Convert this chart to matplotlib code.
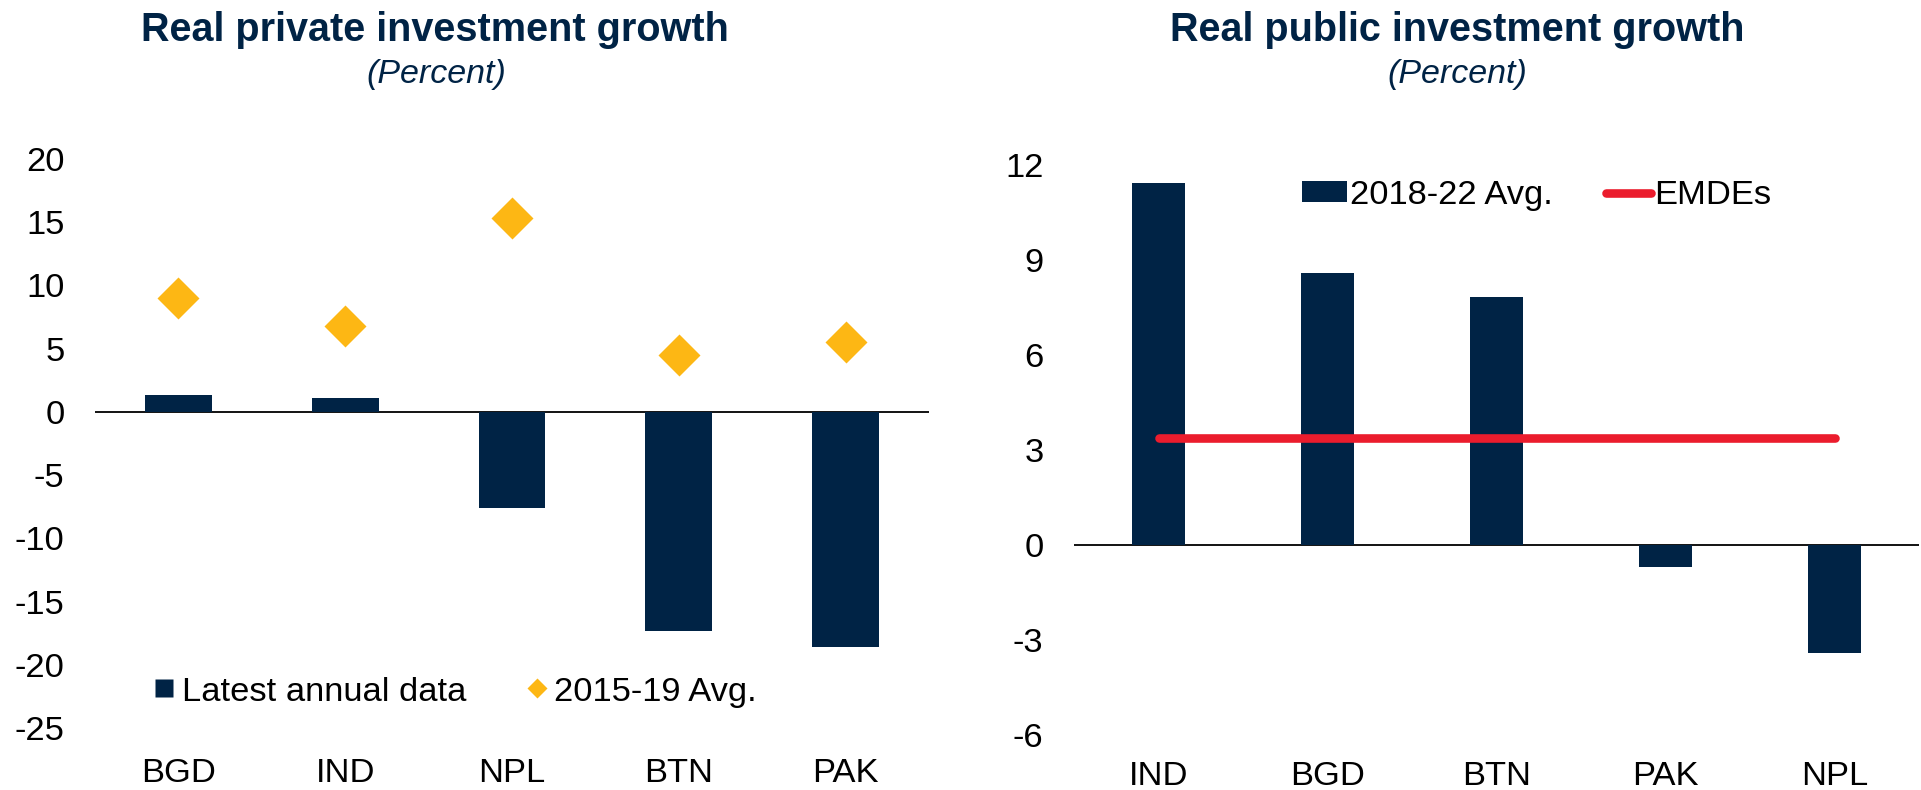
import matplotlib
matplotlib.use("Agg")
import matplotlib.pyplot as plt
from matplotlib.lines import Line2D

plt.rcParams['font.family'] = ['Liberation Sans', 'DejaVu Sans']
plt.rcParams['axes.unicode_minus'] = False

# Data
left_categories = ["BGD", "IND", "NPL", "BTN", "PAK"]
latest_annual = [1.35, 1.1, -7.6, -17.3, -18.6]
avg_2015_19 = [9.0, 6.8, 15.3, 4.5, 5.5]

right_categories = ["IND", "BGD", "BTN", "PAK", "NPL"]
avg_2018_22 = [11.42, 8.58, 7.82, -0.68, -3.42]
emdes = [3.39, 3.39, 3.39, 3.39, 3.39]

left_yticks = [20, 15, 10, 5, 0, -5, -10, -15, -20, -25]
right_yticks = [12, 9, 6, 3, 0, -3, -6]

NAVY = "#002345"
GOLD = "#FDB714"
RED = "#EB1C2D"
FS = 24.8

W, H = 1921, 790
fig = plt.figure(figsize=(W / 100, H / 100), dpi=100)

def px_axes(x0, y0, x1, y1):
    return fig.add_axes([x0 / W, 1 - y1 / H, (x1 - x0) / W, (y1 - y0) / H])

# Left chart
ax1 = px_axes(95, 159, 929, 728)
x = range(len(left_categories))
ax1.bar(x, latest_annual, width=0.4, color=NAVY, zorder=2)
ax1.plot(x, avg_2015_19, ls='', marker='D', ms=21, color=GOLD, mec='none', zorder=3)
ax1.axhline(0, color='black', lw=1.3, zorder=1)
ax1.set_xlim(-0.5, len(left_categories) - 0.5)
ax1.set_ylim(-25, 20)
ax1.set_yticks(left_yticks)
ax1.set_xticks(list(x))
ax1.set_xticklabels(left_categories)
ax1.tick_params(axis='y', length=0, pad=22, labelsize=FS)
ax1.tick_params(axis='x', length=0, pad=21.5, labelsize=FS)
for s in ax1.spines.values():
    s.set_visible(False)
h1 = [Line2D([], [], ls='', marker='s', ms=12.5, color=NAVY, mec='none'),
      Line2D([], [], ls='', marker='D', ms=10, color=GOLD, mec='none')]
ax1.legend(h1, ["Latest annual data", "2015-19 Avg."], loc='center left',
           bbox_to_anchor=(0.0707, 0.0633), frameon=False, fontsize=FS,
           ncol=2, handlelength=0.6, handletextpad=0.2, columnspacing=1.75,
           borderpad=0, borderaxespad=0)

# Right chart
ax2 = px_axes(1074, 165, 1919, 735)
x2 = range(len(right_categories))
bars = ax2.bar(x2, avg_2018_22, width=0.31, color=NAVY, zorder=2)
line, = ax2.plot(x2, emdes, color=RED, lw=6.2, solid_capstyle='round', zorder=3)
ax2.axhline(0, color='black', lw=1.3, zorder=1)
ax2.set_xlim(-0.5, len(right_categories) - 0.5)
ax2.set_ylim(-6, 12)
ax2.set_yticks(right_yticks)
ax2.set_xticks(list(x2))
ax2.set_xticklabels(right_categories)
ax2.tick_params(axis='y', length=0, pad=22, labelsize=FS)
ax2.tick_params(axis='x', length=0, pad=19, labelsize=FS)
for s in ax2.spines.values():
    s.set_visible(False)
ax2.legend([bars, line], ["2018-22 Avg.", "EMDEs"], loc='center left',
           bbox_to_anchor=(0.2698, 0.947), frameon=False,
           fontsize=FS, ncol=2, handlelength=1.3, handleheight=0.53,
           handletextpad=0.1, columnspacing=1.55, borderpad=0, borderaxespad=0)

# Titles
fig.text(435 / W, 1 - 41 / H, "Real private investment growth", ha='center',
         va='baseline', fontsize=28.5, fontweight='bold', color=NAVY)
fig.text(436 / W, 1 - 83 / H, "(Percent)", ha='center', va='baseline',
         fontsize=24.5, fontstyle='italic', color=NAVY)
fig.text(1457 / W, 1 - 41 / H, "Real public investment growth", ha='center',
         va='baseline', fontsize=28.5, fontweight='bold', color=NAVY)
fig.text(1457 / W, 1 - 83 / H, "(Percent)", ha='center', va='baseline',
         fontsize=24.5, fontstyle='italic', color=NAVY)

fig.savefig("out.png", dpi=100)
